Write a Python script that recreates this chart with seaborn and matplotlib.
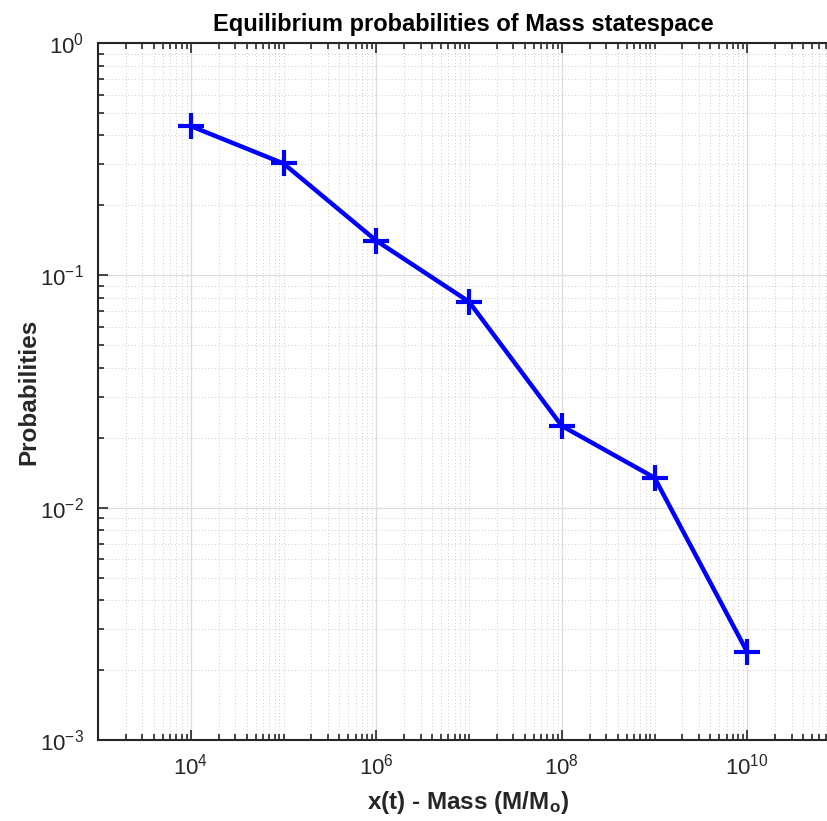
import numpy as np
import pandas as pd
import matplotlib
matplotlib.use('Agg')
import matplotlib.pyplot as plt
import matplotlib.ticker as mticker
import seaborn as sns

# Data
mass = [1e4, 1e5, 1e6, 1e7, 1e8, 1e9, 1e10]
prob = [0.439, 0.303, 0.141, 0.0770, 0.0225, 0.01346, 0.00239]

df = pd.DataFrame({'mass': mass, 'prob': prob})

sns.set_theme(style='white')
plt.rcParams['font.family'] = ['Liberation Sans', 'DejaVu Sans']
plt.rcParams['mathtext.fontset'] = 'custom'
plt.rcParams['mathtext.rm'] = 'Liberation Sans'
plt.rcParams['mathtext.it'] = 'Liberation Sans:italic'
plt.rcParams['mathtext.bf'] = 'Liberation Sans:bold'
plt.rcParams['axes.unicode_minus'] = False

fig = plt.figure(figsize=(8.27, 8.21), dpi=100)
# axes runs a little past the right edge of the figure, as in the reference (x up to 1e11)
ax = fig.add_axes([98 / 827, 1 - 740 / 821, (840 - 98) / 827, (740 - 43) / 821])

sns.lineplot(data=df, x='mass', y='prob', ax=ax, color='#0000ff', linewidth=3.2,
             marker='+', markersize=19, markeredgewidth=3, markeredgecolor='#0000ff')

ax.set_xscale('log')
ax.set_yscale('log')
ax.set_xlim(1e3, 1e11)
ax.set_ylim(1e-3, 1e0)

ax.xaxis.set_major_locator(mticker.FixedLocator([1e4, 1e6, 1e8, 1e10]))
ax.xaxis.set_minor_locator(mticker.LogLocator(base=10, subs=np.arange(1, 10), numticks=30))
ax.yaxis.set_major_locator(mticker.FixedLocator([1e-3, 1e-2, 1e-1, 1e0]))
ax.yaxis.set_minor_locator(mticker.LogLocator(base=10, subs=np.arange(2, 10), numticks=30))
ax.xaxis.set_major_formatter(mticker.LogFormatterMathtext())
ax.yaxis.set_major_formatter(mticker.LogFormatterMathtext())

ax.grid(True, which='major', color='#dcdcdc', linewidth=0.9, linestyle='-')
ax.grid(True, which='minor', color='#bdbdbd', linewidth=0.6, linestyle=(0, (1, 3)))
ax.set_axisbelow(True)

for side in ['left', 'bottom', 'top', 'right']:
    ax.spines[side].set_color('#262626')
    ax.spines[side].set_linewidth(1.5)

ax.tick_params(which='both', direction='in', top=True, right=False, bottom=True, left=True,
               colors='#262626', labelcolor='#262626', width=1.2)
ax.tick_params(which='major', length=7, labelsize=16, pad=10)
ax.tick_params(which='minor', length=4)
ax.tick_params(axis='x', which='minor', labelbottom=False)

ax.set_title('Equilibrium probabilities of Mass statespace', fontsize=17,
             fontweight='bold', color='black', x=(463 - 98) / (840 - 98), pad=9)
ax.set_xlabel(r'x(t) - Mass (M/M$_{\mathbf{o}}$)', fontsize=17.5, fontweight='bold',
              color='#262626')
ax.xaxis.set_label_coords((468 - 98) / (840 - 98), -0.07)
ax.set_ylabel('Probabilities', fontsize=17.5, fontweight='bold', color='#262626')
ax.yaxis.set_label_coords(-(98 - 40) / (840 - 98), 0.5)

fig.savefig('out.png', dpi=100)
